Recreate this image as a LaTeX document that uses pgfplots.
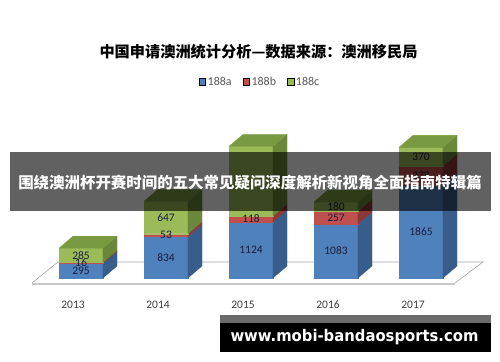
\documentclass[border=0pt]{standalone}
\usepackage{pgfplots}
\pgfplotsset{compat=1.18}
\usepackage{fontspec}
\usepackage{graphicx}
\setmainfont{Carlito}
\newfontfamily\cjk{Noto Sans CJK SC}
\newfontfamily\wm{DejaVu Sans}
\definecolor{cA}{HTML}{4F81BD}
\definecolor{cAs}{HTML}{385D8A}
\definecolor{cB}{HTML}{C0504D}
\definecolor{cBs}{HTML}{8C3836}
\definecolor{cC}{HTML}{9BBB59}
\definecolor{cCs}{HTML}{6B873A}
\definecolor{cCt}{HTML}{7A9A41}
\definecolor{floorc}{HTML}{A6A6A6}
\definecolor{floorf}{HTML}{C8C8C8}
\definecolor{lblc}{HTML}{1C1E3C}
\definecolor{yearc}{HTML}{404040}
\definecolor{legc}{HTML}{595959}
\tikzset{barlbl/.style={font=\fontsize{11.5bp}{12bp}\selectfont, text=lblc, inner sep=0pt}}

\newcommand\face[5]{%
 \pgfmathsetmacro\mXl{#1-0.2588}%
 \pgfmathsetmacro\mXr{#1+0.2588}%
 \pgfmathsetmacro\mXs{#1+0.4238}%
 \pgfmathsetmacro\mYb{#2}%
 \pgfmathsetmacro\mYt{#3}%
 \pgfmathsetmacro\mYbs{#2+240}%
 \pgfmathsetmacro\mYts{#3+240}%
 \edef\mTmp{%
  \noexpand\addplot[fill=#4,draw=#4,line width=0.3bp] coordinates {(\mXl,\mYb) (\mXr,\mYb) (\mXr,\mYt) (\mXl,\mYt) (\mXl,\mYb)};
  \noexpand\addplot[fill=#5,draw=#5,line width=0.3bp] coordinates {(\mXr,\mYb) (\mXs,\mYbs) (\mXs,\mYts) (\mXr,\mYt) (\mXr,\mYb)};
 }\mTmp}
\newcommand\topface[3]{%
 \pgfmathsetmacro\mXl{#1-0.2588}%
 \pgfmathsetmacro\mXr{#1+0.2588}%
 \pgfmathsetmacro\mXls{#1-0.2588+0.165}%
 \pgfmathsetmacro\mXs{#1+0.4238}%
 \pgfmathsetmacro\mYt{#2}%
 \pgfmathsetmacro\mYts{#2+240}%
 \edef\mTmp{\noexpand\addplot[fill=#3,draw=#3,line width=0.3bp] coordinates {(\mXl,\mYt) (\mXr,\mYt) (\mXs,\mYts) (\mXls,\mYts) (\mXl,\mYt)};}\mTmp}
\newcommand\lbl[3]{%
 \pgfmathsetmacro\mYl{#2}%
 \edef\mTmp{\noexpand\node[barlbl] at (axis cs:#1,\mYl) {#3};}\mTmp}
% \stackbar[show c label?]{x}{188a}{188b}{188c}
\newcommand\stackbar[5][1]{%
 \pgfmathsetmacro\mBa{#3}%
 \pgfmathsetmacro\mBb{#3+#4}%
 \pgfmathsetmacro\mBc{#3+#4+#5}%
 \face{#2}{0}{\mBa}{cA}{cAs}%
 \face{#2}{\mBa}{\mBb}{cB}{cBs}%
 \face{#2}{\mBb}{\mBc}{cC}{cCs}%
 \topface{#2}{\mBc}{cCt}%
 \lbl{#2}{#3/2}{#3}%
 \lbl{#2}{#3+#4/2}{#4}%
 \ifnum#1=1 \lbl{#2}{#3+#4+#5/2}{#5}\fi
}

\begin{document}
\begin{tikzpicture}
\fill[white] (0,0) rectangle (500bp,362bp);
\useasboundingbox (0,0) rectangle (500bp,362bp);
\begin{axis}[
  at={(13bp,54bp)}, anchor=south west,
  scale only axis, width=476bp, height=210bp,
  xmin=-0.8, xmax=4.8, ymin=-600, ymax=3600,
  clip=false,
  axis line style={draw=none},
  major tick length=0pt,
  ytick=\empty,
  xtick={0,1,2,3,4},
  xticklabels={2013,2014,2015,2016,2017},
  xticklabel style={font=\fontsize{11.5bp}{13bp}\selectfont, text=yearc, anchor=center, xshift=-8bp, yshift=3bp},
  legend style={at={(0.519,1.076)}, anchor=center, draw=none, fill=none,
    font=\fontsize{12bp}{13bp}\selectfont, text=legc,
    /tikz/every even column/.append style={column sep=9bp}},
  legend columns=3,
  legend image code/.code={\fill[#1] (0bp,-3bp) rectangle (6.5bp,3.5bp);},
]
\addlegendimage{fill=cA}
\addlegendentry{188a}
\addlegendimage{fill=cB}
\addlegendentry{188b}
\addlegendimage{fill=cC}
\addlegendentry{188c}
% floor
\addplot[draw=floorc, line width=0.6bp] coordinates {(-0.576,-100) (-0.271,320) (4.729,320) (4.4,-100)};
\addplot[draw=floorf, line width=2bp] coordinates {(-0.576,-120) (4.4,-120)};
% bars: x, 188a, 188b, 188c
\stackbar{0}{295}{16}{285}
\stackbar{1}{834}{53}{647}
\stackbar[0]{2}{1124}{118}{1390}
\stackbar{3}{1083}{257}{180}
\stackbar{4}{1865}{378}{370}
\end{axis}
\node[font=\cjk\bfseries\fontsize{15.2bp}{18bp}\selectfont, text=black] at (258.5bp,310bp) {中国申请澳洲统计分析—数据来源：澳洲移民局};
% overlay banner
\fill[black, opacity=0.62] (10bp,151bp) rectangle (491bp,210bp);
\node[font=\cjk\bfseries\fontsize{15.45bp}{18bp}\selectfont, text=white] at (250bp,179bp) {围绕澳洲杯开赛时间的五大常见疑问深度解析新视角全面指南特辑篇};
% watermark
\fill[black!58] (220bp,39bp) rectangle (491bp,47bp);
\fill[black] (220bp,10bp) rectangle (491bp,39bp);
\node[font=\wm\bfseries\fontsize{16bp}{18bp}\selectfont, text=white] at (354.5bp,25bp) {\scalebox{0.926}[1]{www.mobi-bandaosports.com}};
\end{tikzpicture}
\end{document}
